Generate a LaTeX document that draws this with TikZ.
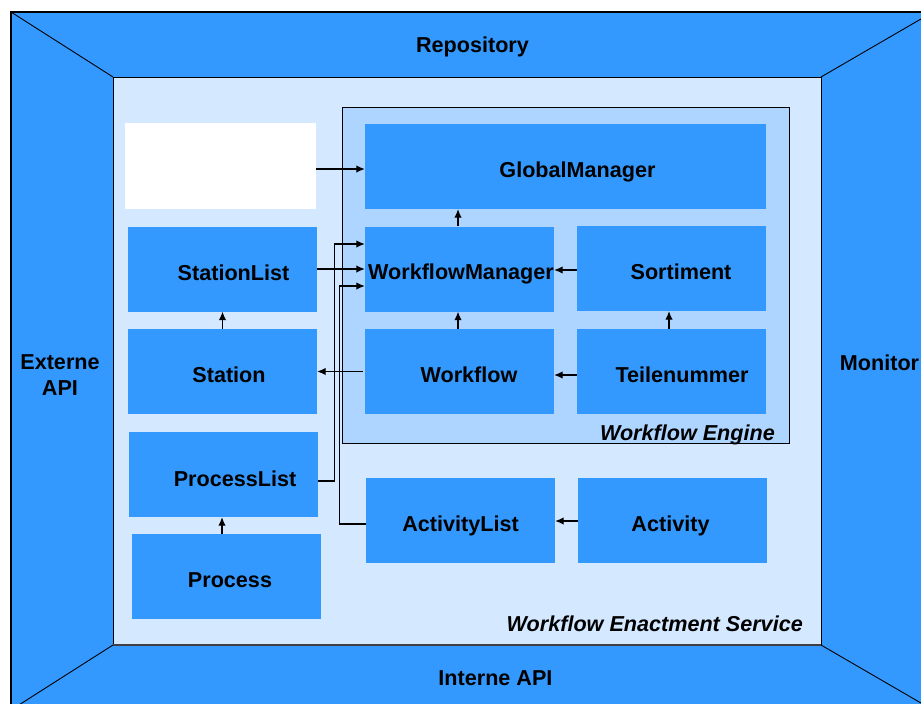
\documentclass[tikz,border=0pt]{standalone}
\usepackage{fontspec}
\setmainfont{Liberation Sans}
\usetikzlibrary{arrows.meta,calc}

\definecolor{frameblue}{RGB}{51,153,255}
\definecolor{serviceblue}{RGB}{212,232,255}
\definecolor{engineblue}{RGB}{173,213,255}

\newcommand{\labelsize}{\fontsize{21.6}{26}\selectfont}

\tikzset{
  box/.style={fill=frameblue, draw=none, inner sep=0pt,
    minimum width=189pt, minimum height=85pt},
  blank/.style={fill=white, draw=none, inner sep=0pt,
    minimum width=191pt, minimum height=86pt},
  txt/.style={font=\labelsize\bfseries, inner sep=0pt, anchor=base},
  boxtxt/.style={font=\labelsize\bfseries, inner sep=0pt,
    text height=15.5pt, text depth=0pt},
  itxt/.style={font=\labelsize\bfseries\itshape, inner sep=0pt},
  arr/.style={draw=black, line width=1.1pt, -{Latex[length=8.5pt,width=7.5pt]}},
  edge/.style={draw=black, line width=0.9pt}
}

\begin{document}
\begin{tikzpicture}[x=1pt,y=-1pt]
\useasboundingbox (0,0) rectangle (921,704);
\fill[white] (0,0) rectangle (921,704);
\clip (0,0) rectangle (921,704);

% outer frame with perspective edges
\coordinate (o1) at (11,12);
\coordinate (o2) at (933,12);
\coordinate (o3) at (933,710);
\coordinate (o4) at (11,710);
\coordinate (i1) at (113,77);
\coordinate (i2) at (821,77);
\coordinate (i3) at (821,645);
\coordinate (i4) at (113,645);
\filldraw[fill=frameblue, edge, line width=1.3pt] (o1) rectangle (o3);
\draw[edge] (o1) -- (i1) (o2) -- (i2) (o3) -- (i3) (o4) -- (i4);

% workflow enactment service area
\filldraw[fill=serviceblue, edge] (i1) rectangle (i3);
\draw[black!75, line width=1.6pt] (i4) -- (i3);

% workflow engine area
\filldraw[fill=engineblue, edge] (342,107) rectangle (789,443);

% frame labels
\node[txt] (repo) at (472.5,52) {Repository};
\node[txt, align=center, anchor=center] (ext) at (60,375) {Externe\\API};
\node[txt] (mon) at (879.5,370) {Monitor};
\node[txt] (iapi) at (495.5,685) {Interne API};
\node[itxt, anchor=base east] (wfe) at (775,440) {Workflow Engine};
\node[itxt, anchor=base east] (wes) at (803,631) {Workflow Enactment Service};

% component boxes
\node[blank] (white) at (220.5,166) {};
\node[box, minimum width=401pt,
  label={[boxtxt, xshift=12pt, yshift=-3.5pt]center:GlobalManager}] (gm) at (565.5,166.5) {};
\node[box, label={[boxtxt, xshift=11pt, yshift=-3.5pt]center:StationList}] (sl) at (222.5,269) {};
\node[box, label={[boxtxt, xshift=1.5pt, yshift=-3pt]center:WorkflowManager}] (wm) at (459.5,269) {};
\node[box, label={[boxtxt, xshift=9.5pt, yshift=-3.5pt]center:Sortiment}] (sort) at (671.5,268.5) {};
\node[box, label={[boxtxt, xshift=6.5pt, yshift=-3.5pt]center:Station}] (st) at (222.5,371.5) {};
\node[box, label={[boxtxt, xshift=9.5pt, yshift=-3.5pt]center:Workflow}] (wf) at (459.5,371.5) {};
\node[box, label={[boxtxt, xshift=10.5pt, yshift=-3.5pt]center:Teilenummer}] (teil) at (671.5,371.5) {};
\node[box, label={[boxtxt, xshift=11.5pt, yshift=-4.5pt]center:ProcessList}] (pl) at (223.5,474.5) {};
\node[box, label={[boxtxt, xshift=0pt, yshift=-3.5pt]center:ActivityList}] (al) at (460.5,520.5) {};
\node[box, label={[boxtxt, xshift=-2pt, yshift=-3.5pt]center:Activity}] (act) at (672.5,520.5) {};
\node[box, label={[boxtxt, xshift=3.5pt, yshift=-3.5pt]center:Process}] (proc) at (226.5,576.5) {};

% connectors
\coordinate (a1) at ($(white.east)+(0,3)$);
\draw[arr] (a1) -- (a1 -| gm.west);
\coordinate (a2) at ($(wm.north)+(-1.5,0)$);
\draw[arr] (a2) -- (a2 |- gm.south);
\draw[arr] (sl.east) -- (wm.west);
\coordinate (a4) at ($(sort.west)+(0,1.5)$);
\draw[arr] (a4) -- (a4 -| wm.east);
\coordinate (a5) at ($(wf.north)+(-1.5,0)$);
\draw[arr] (a5) -- (a5 |- wm.south);
\coordinate (a6) at ($(teil.north)+(-2.5,0)$);
\draw[arr] (a6) -- (a6 |- sort.south);
\coordinate (a7) at ($(teil.west)+(0,3.5)$);
\draw[arr] (a7) -- (a7 -| wf.east);
\draw[arr] ($(wf.west)+(-2,0)$) -- (st.east);
\draw[arr] (st.north) -- (sl.south);
\coordinate (a10) at ($(pl.south)+(-1.5,0)$);
\draw[arr] (a10 |- proc.north) -- (a10);
\coordinate (a11) at ($(act.west)+(0,0.5)$);
\draw[arr] (a11) -- (a11 -| al.east);
\coordinate (p1) at ($(pl.east)+(0,6.5)$);
\draw[arr] (p1) -- ++(16,0) |- ($(wm.west)+(0,-25)$);
\coordinate (q1) at ($(al.west)+(0,3.5)$);
\draw[arr] (q1) -- ++(-26,0) |- ($(wm.west)+(0,17)$);
\end{tikzpicture}
\end{document}
